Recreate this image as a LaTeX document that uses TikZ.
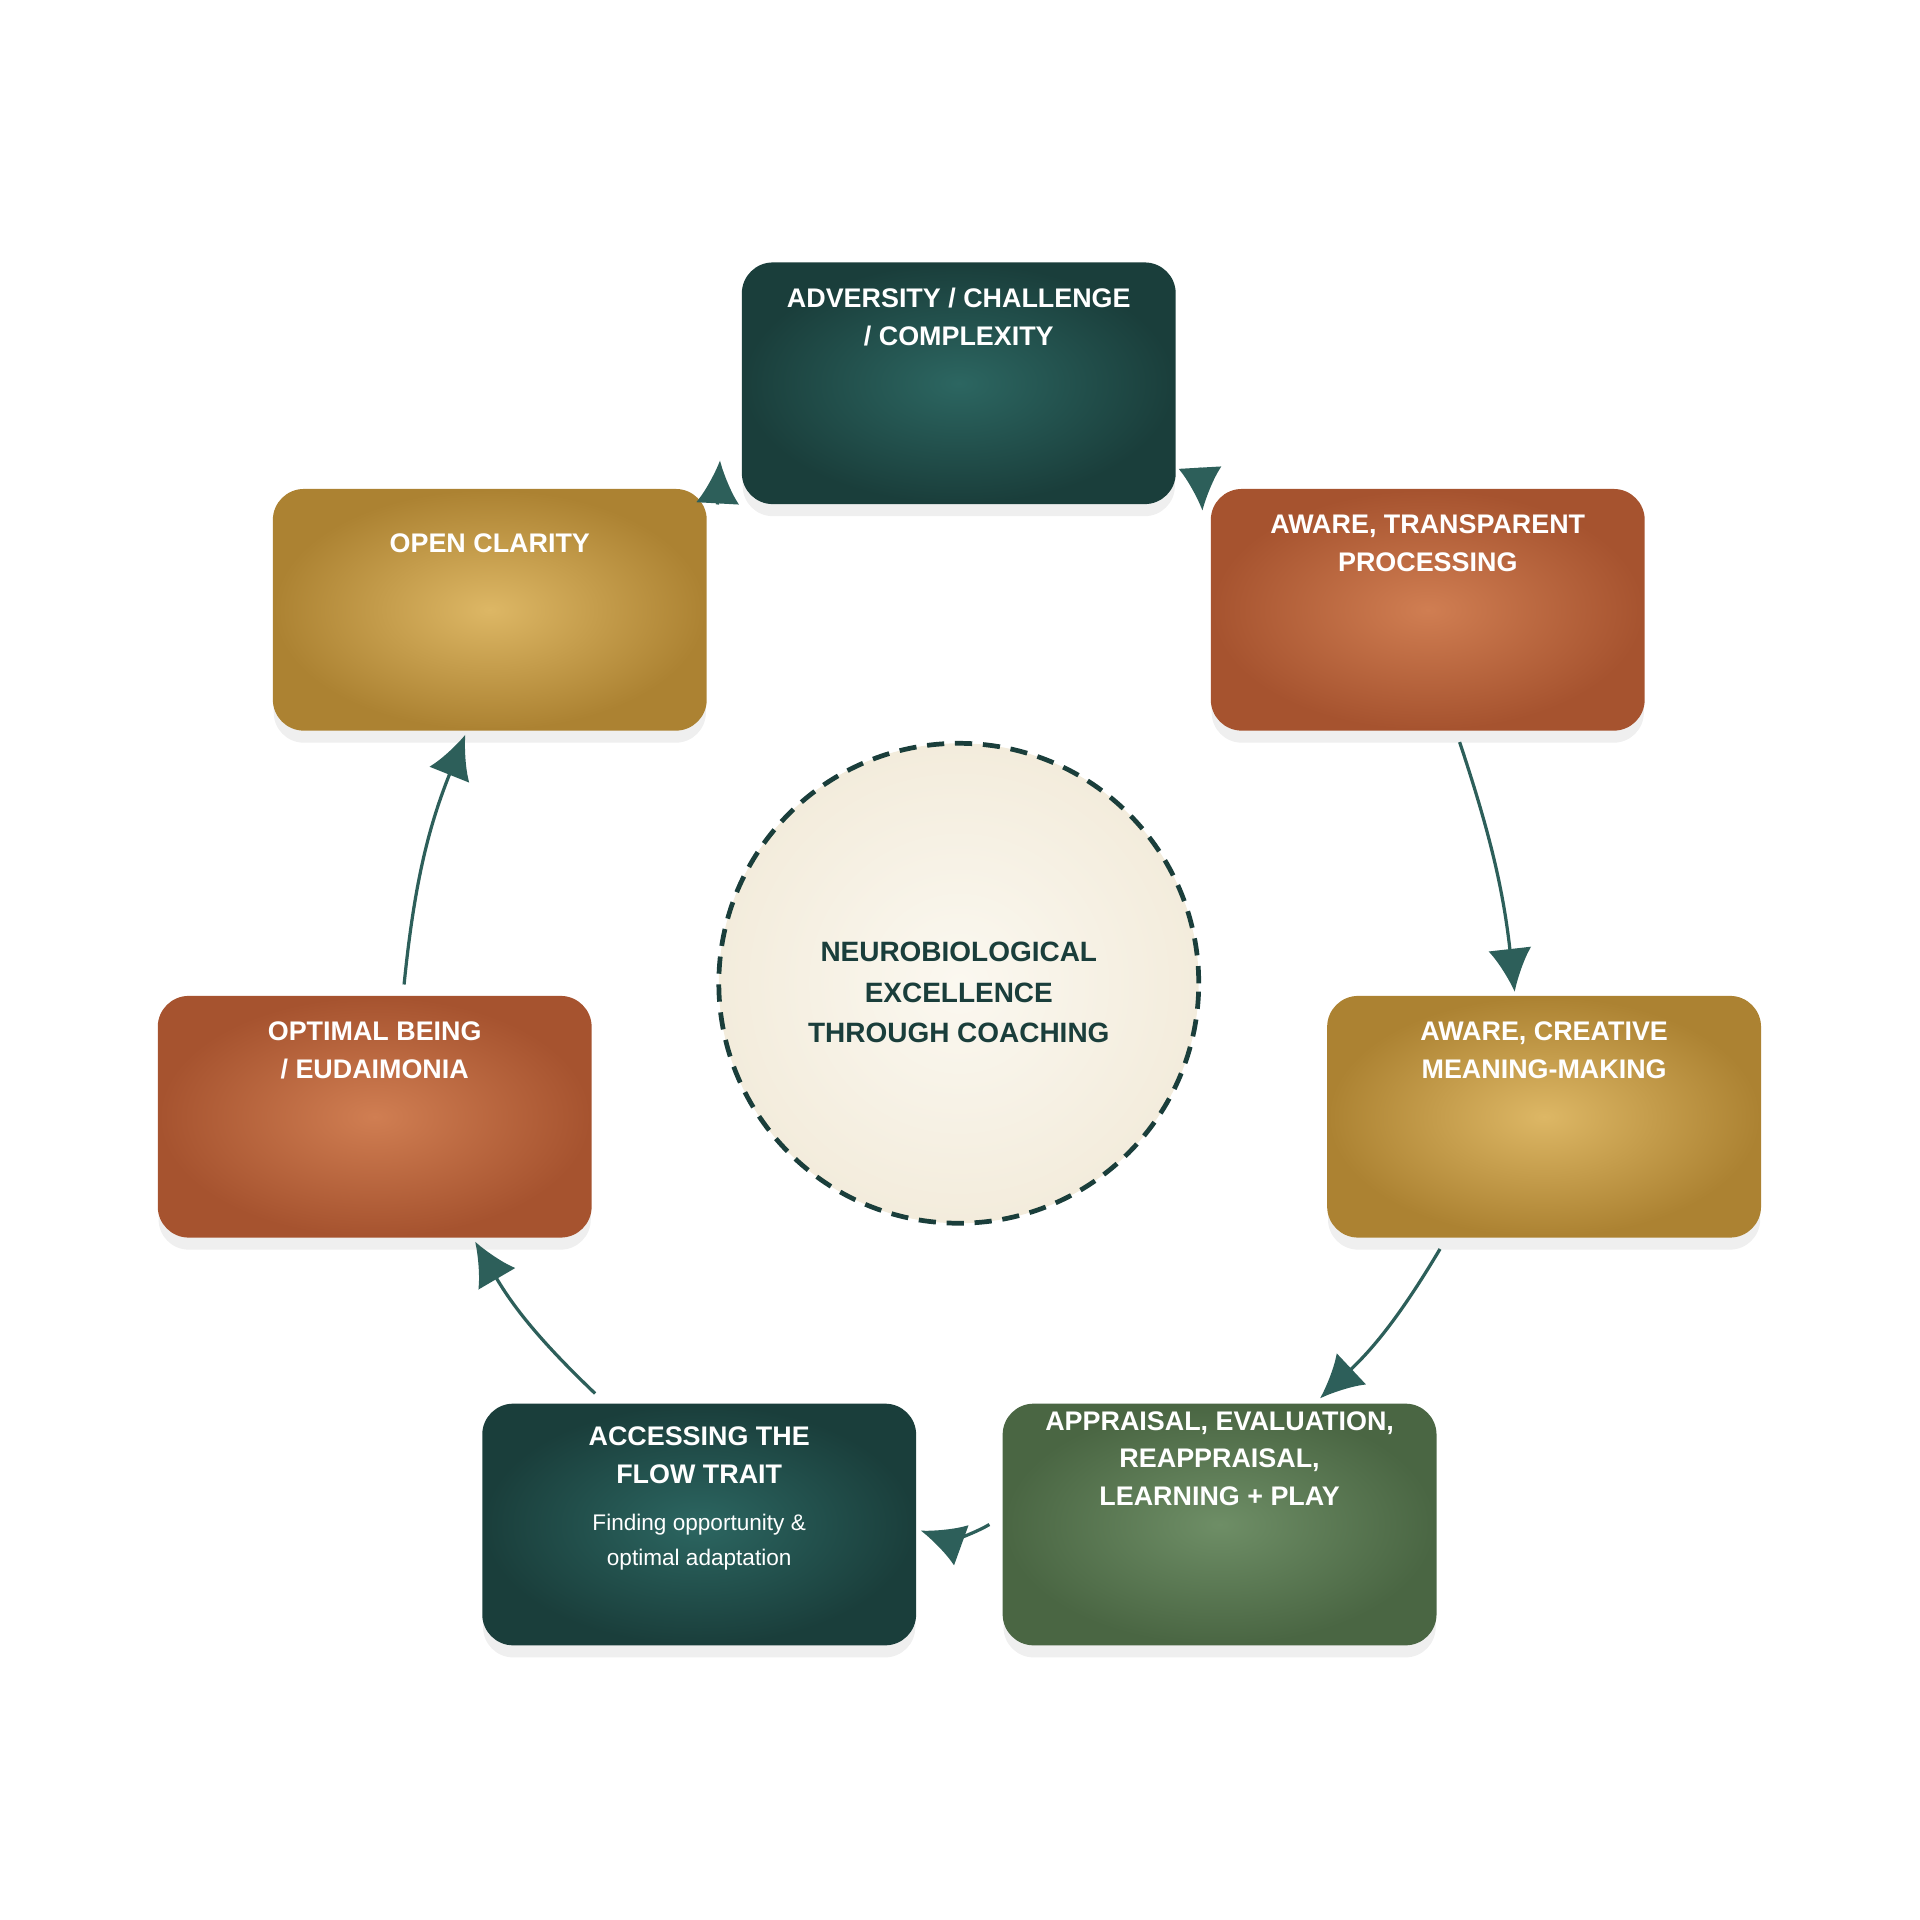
\documentclass[tikz,border=0pt]{standalone}
\usepackage{fontspec}
\setmainfont{Liberation Sans}
\usetikzlibrary{positioning,arrows.meta,shadows}
\definecolor{teal}{HTML}{2C6661}
\definecolor{tealdk}{HTML}{1A3E3B}
\definecolor{rust}{HTML}{D07E52}
\definecolor{rustdk}{HTML}{A6532F}
\definecolor{gold}{HTML}{DDB765}
\definecolor{golddk}{HTML}{AC8232}
\definecolor{moss}{HTML}{6E8E66}
\definecolor{mossdk}{HTML}{4A6643}
\definecolor{cream}{HTML}{FBF8F0}
\definecolor{creamdk}{HTML}{F3ECDC}
\definecolor{arrowc}{HTML}{2D5F5A}
\tikzset{
  box/.style={rounded corners=14pt, minimum width=7.06cm, minimum height=3.92cm,
    draw=#1dk, line width=0.8pt, inner color=#1, outer color=#1dk,
    drop shadow={shadow xshift=0pt, shadow yshift=-6pt, fill=black!25, opacity=0.25}},
  lbl/.style={text=white, font=\bfseries\fontsize{12.5}{17.6}\selectfont, align=center, anchor=north},
  flow/.style={draw=arrowc, line width=1.5pt, -{Latex[length=20pt,width=20pt]}},
}
\begin{document}
\begin{tikzpicture}[x=0.02cm,y=-0.02cm]
\useasboundingbox (0,0) rectangle (1568,1568);

% boxes
\node[box=teal] (adv) at (783,313) {};
\node[box=rust] (proc) at (1166,498) {};
\node[box=gold] (mean) at (1261,912) {};
\node[box=moss] (appr) at (996,1245) {};
\node[box=teal] (flow) at (571,1245) {};
\node[box=rust] (opt) at (306,912) {};
\node[box=gold] (clar) at (400,498) {};

% labels
\node[lbl, below=0.3cm of adv.north] (advL) {ADVERSITY / CHALLENGE\\/ COMPLEXITY};
\node[lbl, below=0.3cm of proc.north] (procL) {AWARE, TRANSPARENT\\PROCESSING};
\node[lbl, below=0.3cm of mean.north] (meanL) {AWARE, CREATIVE\\MEANING-MAKING};
\node[lbl, below=0cm of appr.north] (apprL) {APPRAISAL, EVALUATION,\\REAPPRAISAL,\\LEARNING + PLAY};
\node[lbl, below=0.25cm of flow.north] (flowL) {ACCESSING THE\\FLOW TRAIT};
\node[text=white, font=\fontsize{10.5}{16.5}\selectfont, align=center, below=0.25cm of flowL] (flowS) {Finding opportunity \&\\optimal adaptation};
\node[lbl, below=0.6cm of clar.north] (clarL) {OPEN CLARITY};
\node[lbl, below=0.3cm of opt.north] (optL) {OPTIMAL BEING\\/ EUDAIMONIA};

% centre
\node[circle, minimum size=7.84cm, inner color=cream, outer color=creamdk,
  draw=tealdk, line width=2.2pt, dash pattern=on 8pt off 5pt] (core) at (783,803) {};
\node[text=tealdk, font=\bfseries\fontsize{13}{19}\selectfont, align=center] (coreL) at ([yshift=-0.15cm]core) {NEUROBIOLOGICAL\\EXCELLENCE\\THROUGH COACHING};

% cycle
\coordinate (c1) at (586,412);
\coordinate (c2) at (980,382);
\coordinate (c3) at (1192,606);
\coordinate (c4) at (1176,1020);
\coordinate (c5) at (808,1245);
\coordinate (c6) at (486,1138);
\coordinate (c7) at (330,804);
\draw[flow] (c1) -- (588,376);
\draw[flow] (c2) -- (982,417);
\draw[flow] (c3) to[bend left=6] (1237,810);
\draw[flow] (c4) to[bend left=8] (1078,1142);
\draw[flow] (c5) to[bend left=25] (752,1250);
\draw[flow] (c6) to[bend left=8] (388,1014);
\draw[flow] (c7) to[bend left=8] (380,600);
\end{tikzpicture}
\end{document}
